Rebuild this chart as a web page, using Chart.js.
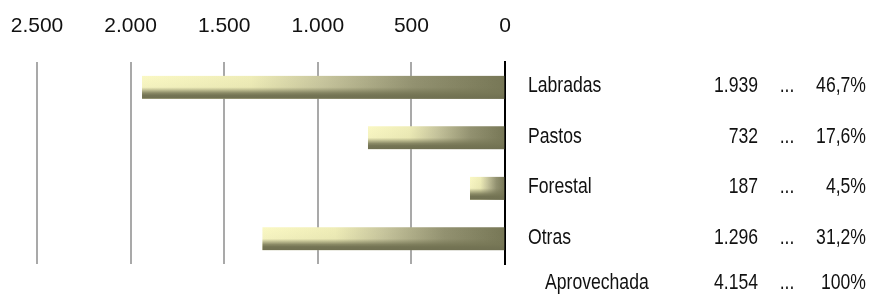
<!DOCTYPE html>
<html>
<head>
<meta charset="utf-8">
<script src="https://cdn.jsdelivr.net/npm/chart.js@4.4.0/dist/chart.umd.min.js"></script>
<style>
  body { margin: 0; background: #fff; }
  #wrap { width: 869px; height: 294px; }
</style>
</head>
<body>
<div id="wrap"><canvas id="barras"></canvas></div>
<script>
// superficie por tipo de aprovechamiento
const categorias = ['Labradas', 'Pastos', 'Forestal', 'Otras'];
const superficie = [1939, 732, 187, 1296];
const porcentajes = ['46,7%', '17,6%', '4,5%', '31,2%'];
const totalNombre = 'Aprovechada';
const totalValor = 4154;
const totalPorcentaje = '100%';
const ejeMax = 2500;
const ejePaso = 500;

const fuente = '"Liberation Sans", Arial, sans-serif';

// separador de miles con punto
function fmt(n) {
  return String(n).replace(/\B(?=(\d{3})+(?!\d))/g, '.');
}

// relleno degradado de cada barra (claro arriba a la izquierda, oscuro abajo y a la derecha)
function rellenoBarra(ctx) {
  const chart = ctx.chart;
  const x = chart.scales.x, y = chart.scales.y;
  if (!x || !y || ctx.type !== 'data' || !chart.width) return '#7a7a5a';
  const izq = x.getPixelForValue(ctx.raw);
  const der = x.getPixelForValue(0);
  const cy = y.getPixelForValue(ctx.dataIndex);
  if (![izq, der, cy].every(Number.isFinite) || der <= izq) return '#7a7a5a';
  const h = 23;
  const top = cy - h / 2;
  const off = document.createElement('canvas');
  off.width = chart.width;
  off.height = chart.height;
  const o = off.getContext('2d');
  const gh = o.createLinearGradient(izq, 0, der, 0);
  gh.addColorStop(0, '#faf8c4');
  gh.addColorStop(0.3, '#efedb8');
  gh.addColorStop(0.5, '#c8c69e');
  gh.addColorStop(0.75, '#939271');
  gh.addColorStop(1, '#777756');
  o.fillStyle = gh;
  o.fillRect(izq, top, der - izq, h);
  const gv = o.createLinearGradient(0, top, 0, top + h);
  gv.addColorStop(0, 'rgba(119,119,86,0)');
  gv.addColorStop(0.5, 'rgba(119,119,86,0.05)');
  gv.addColorStop(0.75, 'rgba(119,119,86,0.85)');
  gv.addColorStop(0.85, 'rgba(116,116,84,1)');
  gv.addColorStop(1, 'rgba(112,112,82,1)');
  o.fillStyle = gv;
  o.fillRect(izq, top, der - izq, h);
  return o.createPattern(off, 'no-repeat');
}

// textos a la derecha: nombre, valor, puntos y porcentaje (letra estrecha)
const textosDerecha = {
  id: 'textosDerecha',
  afterDraw(chart) {
    const c = chart.ctx;
    const y = chart.scales.y;
    const x0 = chart.chartArea.right;
    c.save();
    c.fillStyle = '#111';
    c.font = '22px ' + fuente;
    c.textBaseline = 'middle';
    const estrecho = (txt, xx, yy, align) => {
      c.save();
      c.translate(xx, yy);
      c.scale(0.8, 1);
      c.textAlign = align;
      c.fillText(txt, 0, 0);
      c.restore();
    };
    const fila = (nombre, valor, pct, yy, xNombre) => {
      estrecho(nombre, xNombre, yy, 'left');
      estrecho(fmt(valor), x0 + 253, yy, 'right');
      estrecho('...', x0 + 282, yy, 'center');
      estrecho(pct, x0 + 361, yy, 'right');
    };
    categorias.forEach((cat, i) => {
      fila(cat, superficie[i], porcentajes[i], y.getPixelForValue(i) - 1, x0 + 23);
    });
    fila(totalNombre, totalValor, totalPorcentaje, y.bottom + 19, x0 + 40);
    c.restore();
  }
};

new Chart(document.getElementById('barras'), {
  type: 'bar',
  data: {
    labels: categorias,
    datasets: [{
      label: 'Superficie',
      data: superficie,
      backgroundColor: rellenoBarra,
      borderWidth: 0,
      barThickness: 23
    }]
  },
  options: {
    indexAxis: 'y',
    responsive: true,
    maintainAspectRatio: false,
    animation: false,
    layout: { padding: { left: 37, right: 356, top: 0, bottom: 30 } },
    plugins: { legend: { display: false }, tooltip: { enabled: false } },
    scales: {
      x: {
        position: 'top',
        reverse: true,
        min: 0,
        max: ejeMax,
        afterFit: s => { s.paddingLeft = 0; s.paddingRight = 0; s.height = 62; },
        ticks: {
          stepSize: ejePaso,
          color: '#111',
          padding: 23,
          maxRotation: 0,
          autoSkip: false,
          font: { family: fuente, size: 21 },
          callback: v => fmt(v)
        },
        grid: { color: '#a9a9a9', lineWidth: 2, drawTicks: false },
        border: { display: false }
      },
      y: {
        position: 'right',
        ticks: { display: false },
        grid: { display: false },
        border: { color: '#000', width: 2 }
      }
    }
  },
  plugins: [textosDerecha]
});
</script>
</body>
</html>
